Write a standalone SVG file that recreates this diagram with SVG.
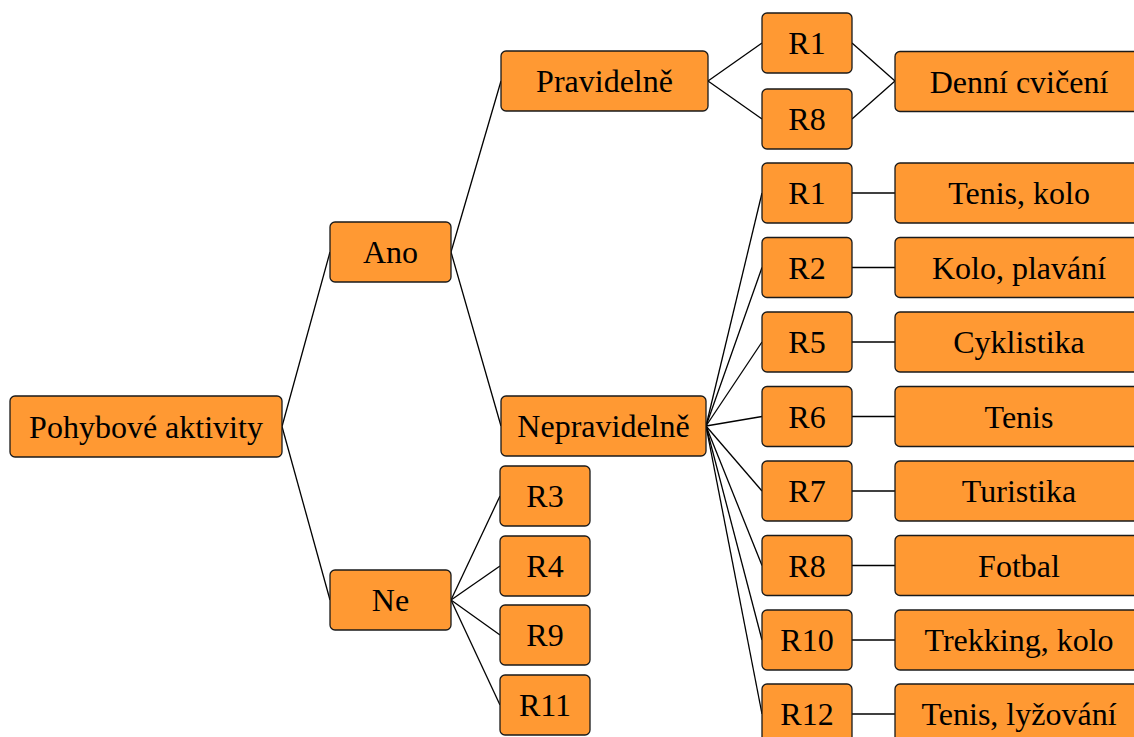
<svg xmlns="http://www.w3.org/2000/svg" width="1134" height="737" viewBox="0 0 1134 737">
<style>
.n rect{fill:#FF9933;stroke:#1a1a1a;stroke-width:1.3}
.n text{font-family:"Liberation Serif","Times New Roman",serif;font-size:32px;fill:#000;text-anchor:middle}
.e line{stroke:#000;stroke-width:1.3}
</style>
<rect width="1134" height="737" fill="#fff"/>
<g class="e">
<line x1="282" y1="426.5" x2="330" y2="252"/>
<line x1="282" y1="426.5" x2="330" y2="600"/>
<line x1="451" y1="252" x2="501" y2="81"/>
<line x1="451" y1="252" x2="501" y2="426"/>
<line x1="708" y1="81" x2="762" y2="43"/>
<line x1="708" y1="81" x2="762" y2="119"/>
<line x1="852" y1="43" x2="895" y2="81"/>
<line x1="852" y1="119" x2="895" y2="81"/>
<line x1="451" y1="600" x2="500" y2="496"/>
<line x1="451" y1="600" x2="500" y2="566"/>
<line x1="451" y1="600" x2="500" y2="635"/>
<line x1="451" y1="600" x2="500" y2="705"/>
<line x1="706" y1="426" x2="762" y2="193"/>
<line x1="706" y1="426" x2="762" y2="267.5"/>
<line x1="706" y1="426" x2="762" y2="342"/>
<line x1="706" y1="426" x2="762" y2="416.5"/>
<line x1="706" y1="426" x2="762" y2="491"/>
<line x1="706" y1="426" x2="762" y2="565.5"/>
<line x1="706" y1="426" x2="762" y2="640"/>
<line x1="706" y1="426" x2="762" y2="714"/>
<line x1="852" y1="193" x2="895" y2="193"/>
<line x1="852" y1="267.5" x2="895" y2="267.5"/>
<line x1="852" y1="342" x2="895" y2="342"/>
<line x1="852" y1="416.5" x2="895" y2="416.5"/>
<line x1="852" y1="491" x2="895" y2="491"/>
<line x1="852" y1="565.5" x2="895" y2="565.5"/>
<line x1="852" y1="640" x2="895" y2="640"/>
<line x1="852" y1="714" x2="895" y2="714"/>
</g>
<g id="root" class="n"><rect x="10" y="396" width="272" height="61" rx="5"/><text x="146" y="437.5">Pohybové aktivity</text></g>
<g id="ano" class="n"><rect x="330" y="222" width="121" height="60" rx="5"/><text x="390.5" y="263">Ano</text></g>
<g id="ne" class="n"><rect x="330" y="570" width="121" height="60" rx="5"/><text x="390.5" y="611">Ne</text></g>
<g id="prav" class="n"><rect x="501" y="51" width="207" height="60" rx="5"/><text x="604.5" y="92">Pravidelně</text></g>
<g id="neprav" class="n"><rect x="501" y="396" width="205" height="60" rx="5"/><text x="603.5" y="437">Nepravidelně</text></g>
<g id="r3" class="n"><rect x="500" y="466" width="90" height="60" rx="5"/><text x="545" y="507">R3</text></g>
<g id="r4" class="n"><rect x="500" y="536" width="90" height="60" rx="5"/><text x="545" y="577">R4</text></g>
<g id="r9" class="n"><rect x="500" y="605" width="90" height="60" rx="5"/><text x="545" y="646">R9</text></g>
<g id="r11" class="n"><rect x="500" y="675" width="90" height="60" rx="5"/><text x="545" y="716">R11</text></g>
<g id="p_r1" class="n"><rect x="762" y="13" width="90" height="60" rx="5"/><text x="807" y="54">R1</text></g>
<g id="p_r8" class="n"><rect x="762" y="89" width="90" height="60" rx="5"/><text x="807" y="130">R8</text></g>
<g id="denni" class="n"><rect x="895" y="51.5" width="248" height="60" rx="5"/><text x="1019" y="92.5">Denní cvičení</text></g>
<g id="n_r1" class="n"><rect x="762" y="163" width="90" height="60" rx="5"/><text x="807" y="204">R1</text></g>
<g id="n_r2" class="n"><rect x="762" y="237.5" width="90" height="60" rx="5"/><text x="807" y="278.5">R2</text></g>
<g id="n_r5" class="n"><rect x="762" y="312" width="90" height="60" rx="5"/><text x="807" y="353">R5</text></g>
<g id="n_r6" class="n"><rect x="762" y="386.5" width="90" height="60" rx="5"/><text x="807" y="427.5">R6</text></g>
<g id="n_r7" class="n"><rect x="762" y="461" width="90" height="60" rx="5"/><text x="807" y="502">R7</text></g>
<g id="n_r8" class="n"><rect x="762" y="535.5" width="90" height="60" rx="5"/><text x="807" y="576.5">R8</text></g>
<g id="n_r10" class="n"><rect x="762" y="610" width="90" height="60" rx="5"/><text x="807" y="651">R10</text></g>
<g id="n_r12" class="n"><rect x="762" y="684" width="90" height="60" rx="5"/><text x="807" y="725">R12</text></g>
<g id="a1" class="n"><rect x="895" y="163" width="248" height="60" rx="5"/><text x="1019" y="204">Tenis, kolo</text></g>
<g id="a2" class="n"><rect x="895" y="237.5" width="248" height="60" rx="5"/><text x="1019" y="278.5">Kolo, plavání</text></g>
<g id="a5" class="n"><rect x="895" y="312" width="248" height="60" rx="5"/><text x="1019" y="353">Cyklistika</text></g>
<g id="a6" class="n"><rect x="895" y="386.5" width="248" height="60" rx="5"/><text x="1019" y="427.5">Tenis</text></g>
<g id="a7" class="n"><rect x="895" y="461" width="248" height="60" rx="5"/><text x="1019" y="502">Turistika</text></g>
<g id="a8" class="n"><rect x="895" y="535.5" width="248" height="60" rx="5"/><text x="1019" y="576.5">Fotbal</text></g>
<g id="a10" class="n"><rect x="895" y="610" width="248" height="60" rx="5"/><text x="1019" y="651">Trekking, kolo</text></g>
<g id="a12" class="n"><rect x="895" y="684" width="248" height="60" rx="5"/><text x="1019" y="725">Tenis, lyžování</text></g>
</svg>
